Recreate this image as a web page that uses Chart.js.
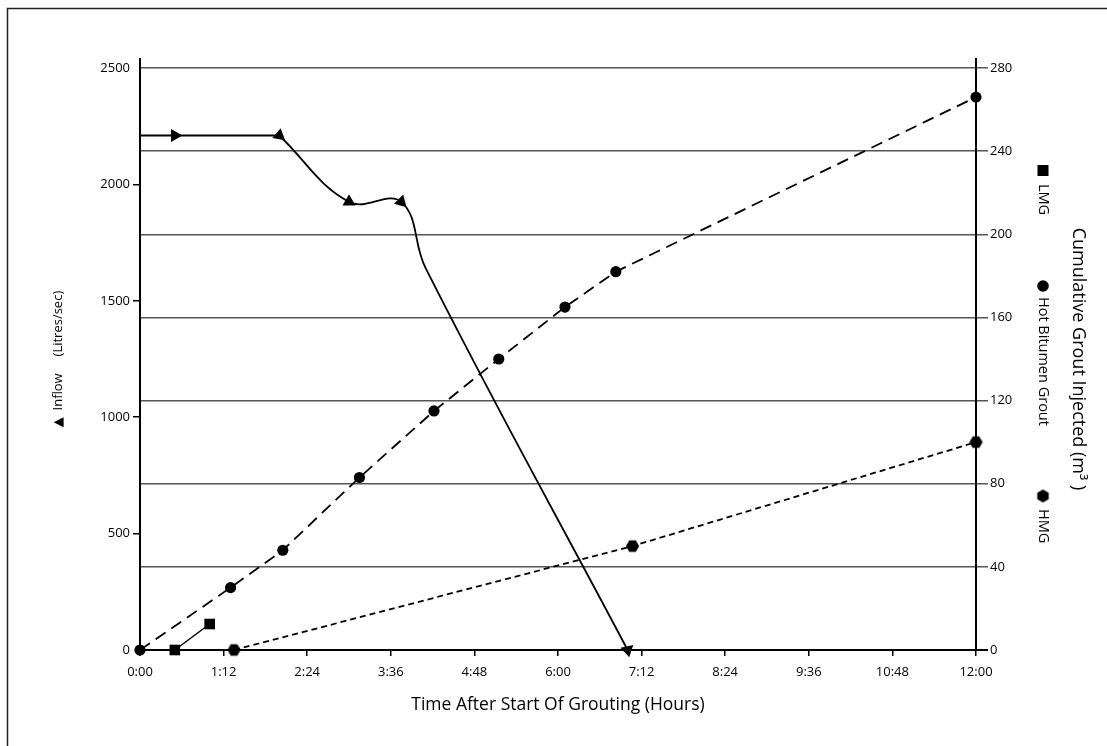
<!DOCTYPE html>
<html>
<head>
<meta charset="utf-8">
<script src="https://cdn.jsdelivr.net/npm/chart.js@4/dist/chart.umd.min.js"></script>
<style>
html,body{margin:0;padding:0;background:#fff;}
#wrap{width:1107px;height:746px;position:relative;}
</style>
</head>
<body>
<div id="wrap"><canvas id="c"></canvas></div>
<script>
// ---- tick values / labels ----
const xTickHours  = [0, 1.2, 2.4, 3.6, 4.8, 6, 7.2, 8.4, 9.6, 10.8, 12];
const xTickLabels = ['0:00','1:12','2:24','3:36','4:48','6:00','7:12','8:24','9:36','10:48','12:00'];
const inflowTicks = [0, 500, 1000, 1500, 2000, 2500];
const groutTicks  = [0, 40, 80, 120, 160, 200, 240, 280];

// ---- Inflow (Litres/sec), left axis ----
const inflowStraightHours  = [0, 0.5, 2.0];
const inflowStraightValues = [2210, 2210, 2210];
const inflowCurveHours     = [2.0, 3.0, 3.75, 4.1, 7.0];
const inflowCurveValues    = [2210, 1925, 1925, 1640, 0];

// ---- Cumulative grout injected (m3), right axis ----
const hbgHours  = [0, 1.3, 2.05, 3.15, 4.22, 5.15, 6.1, 6.83, 12];
const hbgValues = [0, 30, 48, 83, 115, 140, 165, 182, 266];
const lmgHours  = [0.5, 1.0];
const lmgValues = [0, 12.5];
const hmgHours  = [1.35, 7.07, 12];
const hmgValues = [0, 50, 100];

const pts = (xs, ys) => xs.map((x, i) => ({x: x, y: ys[i]}));

// hexagon marker image
function makeHex(rot) {
  const c = document.createElement('canvas');
  c.width = 15; c.height = 15;
  const g = c.getContext('2d');
  g.fillStyle = '#000';
  g.beginPath();
  for (let i = 0; i < 6; i++) {
    const a = Math.PI / 3 * i + rot;
    const px = 7.5 + 6.6 * Math.cos(a), py = 7.5 + 6.6 * Math.sin(a);
    if (i === 0) g.moveTo(px, py); else g.lineTo(px, py);
  }
  g.closePath();
  g.fill();
  return c;
}
const hexImg = makeHex(0);
const hexLegendImg = makeHex(Math.PI / 6);

const FONT = '"Open Sans", "Noto Sans", "DejaVu Sans", sans-serif';
Chart.defaults.font.family = FONT;
Chart.defaults.color = '#000';

const decor = {
  id: 'decor',
  beforeDraw(chart) {
    const ctx = chart.ctx;
    ctx.save();
    ctx.fillStyle = '#fff';
    ctx.fillRect(0, 0, chart.width, chart.height);
    ctx.strokeStyle = '#222';
    ctx.lineWidth = 1.5;
    ctx.beginPath();
    ctx.moveTo(7.5, chart.height + 5);
    ctx.lineTo(7.5, 8.5);
    ctx.lineTo(chart.width + 5, 8.5);
    ctx.stroke();
    ctx.restore();
  },
  afterDraw(chart) {
    const ctx = chart.ctx;
    const a = chart.chartArea;
    ctx.save();
    // axis line extensions
    ctx.strokeStyle = '#000';
    ctx.lineWidth = 2;
    ctx.beginPath();
    ctx.moveTo(a.left, a.top - 10); ctx.lineTo(a.left, a.top);
    ctx.moveTo(a.right, a.top - 10); ctx.lineTo(a.right, a.top);
    ctx.moveTo(a.right, a.bottom); ctx.lineTo(a.right + 12, a.bottom);
    ctx.stroke();

    // right-hand legend (rotated)
    const lx = a.right + 67;
    ctx.fillStyle = '#000';
    ctx.fillRect(lx - 5.5, 165, 11, 11);
    ctx.beginPath(); ctx.arc(lx, 286, 5.8, 0, Math.PI * 2); ctx.fill();
    ctx.drawImage(hexLegendImg, lx - 7.5, 496 - 7.5);

    ctx.font = '14.5px ' + FONT;
    ctx.textAlign = 'left';
    ctx.textBaseline = 'middle';
    const texts = [['LMG', 184], ['Hot Bitumen Grout', 297], ['HMG', 509]];
    texts.forEach(([t, y]) => {
      ctx.save();
      ctx.translate(lx, y);
      ctx.rotate(Math.PI / 2);
      ctx.fillText(t, 0, 0);
      ctx.restore();
    });
    ctx.restore();
  }
};

new Chart(document.getElementById('c'), {
  type: 'line',
  data: {
    datasets: [
      {
        label: 'Inflow',
        data: pts(inflowStraightHours, inflowStraightValues),
        yAxisID: 'y',
        borderColor: '#000', borderWidth: 1.8, tension: 0, clip: false,
        pointStyle: 'triangle', pointRadius: [0, 7.5, 0], pointRotation: [0, 90, 0],
        pointBackgroundColor: '#000', pointBorderColor: '#000', pointBorderWidth: 0
      },
      {
        label: 'Inflow (curve)',
        data: pts(inflowCurveHours, inflowCurveValues),
        yAxisID: 'y',
        borderColor: '#000', borderWidth: 1.8, tension: 0.4, clip: false,
        pointStyle: 'triangle', pointRadius: [7.5, 7.5, 7.5, 0, 7.5], pointRotation: [10, 0, 15, 0, 168],
        pointBackgroundColor: '#000', pointBorderColor: '#000', pointBorderWidth: 0
      },
      {
        label: 'Hot Bitumen Grout',
        data: pts(hbgHours, hbgValues),
        yAxisID: 'y2',
        borderColor: '#000', borderWidth: 1.8, borderDash: [12, 7], tension: 0, clip: false,
        pointStyle: 'circle', pointRadius: 5.6,
        pointBackgroundColor: '#000', pointBorderColor: '#000', pointBorderWidth: 0
      },
      {
        label: 'LMG',
        data: pts(lmgHours, lmgValues),
        yAxisID: 'y2',
        borderColor: '#000', borderWidth: 1.5, tension: 0, clip: false,
        pointStyle: 'rect', pointRadius: 7.5,
        pointBackgroundColor: '#000', pointBorderColor: '#000', pointBorderWidth: 0
      },
      {
        label: 'HMG',
        data: pts(hmgHours, hmgValues),
        yAxisID: 'y2',
        borderColor: '#000', borderWidth: 1.8, borderDash: [6, 4], tension: 0, clip: false,
        pointStyle: hexImg, pointRadius: 7,
        pointBackgroundColor: '#000', pointBorderColor: '#000', pointBorderWidth: 0
      }
    ]
  },
  options: {
    responsive: true,
    maintainAspectRatio: false,
    animation: false,
    events: [],
    layout: { padding: { top: 68, left: 0, right: 0, bottom: 0 } },
    plugins: { legend: { display: false }, tooltip: { enabled: false } },
    scales: {
      x: {
        type: 'linear', position: 'bottom', min: 0, max: 12,
        afterBuildTicks: s => { s.ticks = xTickHours.map(v => ({ value: v })); },
        afterFit: s => { s.height = 96; },
        ticks: {
          autoSkip: false, maxRotation: 0, padding: 8, color: '#000',
          font: { size: 13 },
          callback: (v, i) => xTickLabels[i]
        },
        grid: { drawOnChartArea: false, drawTicks: true, tickLength: 6, color: '#000', lineWidth: 1.5 },
        border: { display: true, color: '#000', width: 2 },
        title: {
          display: true, text: 'Time After Start Of Grouting (Hours)', color: '#000',
          font: { size: 17.5 }, padding: { top: 4, bottom: 30 }
        }
      },
      y: {
        type: 'linear', position: 'left', min: 0, max: 2500,
        afterBuildTicks: s => { s.ticks = inflowTicks.map(v => ({ value: v })); },
        afterFit: s => { s.width = 140; },
        ticks: { padding: 3, color: '#000', font: { size: 13 }, callback: v => String(v) },
        grid: {
          drawOnChartArea: false, drawTicks: true, tickLength: 7, lineWidth: 1.5,
          color: c => (c.tick && (c.tick.value === 0 || c.tick.value === 2500)) ? 'rgba(0,0,0,0)' : '#000'
        },
        border: { display: true, color: '#000', width: 2 },
        title: {
          display: true, text: '\u25B2  Inflow     (Litres/sec)', color: '#000',
          font: { size: 13 }, padding: { top: 50, bottom: 0 }
        }
      },
      y2: {
        type: 'linear', position: 'right', min: 0, max: 280,
        afterBuildTicks: s => { s.ticks = groutTicks.map(v => ({ value: v })); },
        afterFit: s => { s.width = 131; },
        ticks: { padding: 2, color: '#000', font: { size: 13 }, callback: v => String(v) },
        grid: {
          drawOnChartArea: true, drawTicks: true, tickLength: 12, lineWidth: 1.5,
          color: c => (c.tick && c.tick.value === 0) ? 'rgba(0,0,0,0)' : '#555'
        },
        border: { display: true, color: '#000', width: 2 },
        title: {
          display: true, text: 'Cumulative Grout Injected (m\u00B3 )', color: '#000',
          font: { size: 18 }, padding: { top: 18, bottom: 0 }
        }
      }
    }
  },
  plugins: [decor]
});
</script>
</body>
</html>
